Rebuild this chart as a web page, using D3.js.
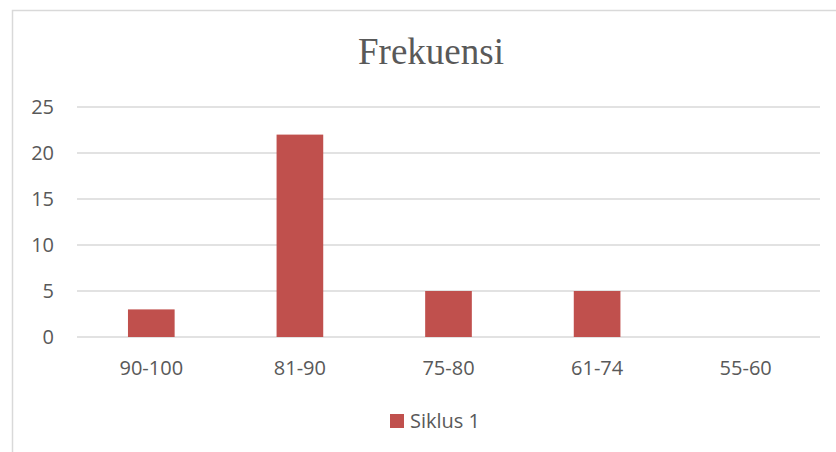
<!DOCTYPE html>
<html>
<head>
<meta charset="utf-8">
<script src="https://cdn.jsdelivr.net/npm/d3@7"></script>
<style>
  body { margin: 0; background: #fff; }
  svg { display: block; }
  .tick text { font-family: "Open Sans", sans-serif; fill: #595959; }
</style>
</head>
<body>
<svg id="chart" width="836" height="452"></svg>
<script>
const categories = ["90-100", "81-90", "75-80", "61-74", "55-60"];
const siklus1 = [3, 22, 5, 5, 0];
const yTicks = [0, 5, 10, 15, 20, 25];
const seriesName = "Siklus 1";
const title = "Frekuensi";

const svg = d3.select("#chart");

const barColor = "#c0504d";
const gridColor = "#d9d9d9";
const textColor = "#595959";

// outer chart frame
svg.append("rect")
    .attr("x", 12.5).attr("y", 10.5)
    .attr("width", 840).attr("height", 460)
    .attr("fill", "none")
    .attr("stroke", gridColor)
    .attr("stroke-width", 1.5);

const plot = { left: 77, right: 820, top: 107, bottom: 337 };

const x = d3.scaleBand()
    .domain(categories)
    .range([plot.left, plot.right])
    .paddingInner(0.686)
    .paddingOuter(0.343);

const y = d3.scaleLinear()
    .domain([0, 25])
    .range([plot.bottom, plot.top]);

// gridlines
svg.append("g")
    .selectAll("line")
    .data(yTicks)
    .join("line")
    .attr("x1", plot.left)
    .attr("x2", plot.right)
    .attr("y1", d => y(d))
    .attr("y2", d => y(d))
    .attr("stroke", gridColor)
    .attr("stroke-width", 1.3);

// y axis labels
const yAxis = svg.append("g")
    .attr("transform", `translate(${plot.left - 23},0)`)
    .call(d3.axisLeft(y).tickValues(yTicks).tickSize(0).tickPadding(0));
yAxis.select(".domain").remove();
yAxis.selectAll("text").style("font-size", "20px");

// bars
svg.append("g")
    .selectAll("rect")
    .data(categories.map((c, i) => ({ cat: c, value: siklus1[i] })))
    .join("rect")
    .attr("x", d => x(d.cat))
    .attr("y", d => y(d.value))
    .attr("width", x.bandwidth())
    .attr("height", d => y(0) - y(d.value))
    .attr("fill", barColor);

// x axis labels
const xAxis = svg.append("g")
    .attr("transform", `translate(0,${plot.bottom + 31})`)
    .call(d3.axisBottom(x).tickSize(0).tickPadding(0));
xAxis.select(".domain").remove();
xAxis.selectAll("text").style("font-size", "20px").attr("dy", "0.35em");

// title
svg.append("text")
    .attr("x", 431)
    .attr("y", 64)
    .attr("text-anchor", "middle")
    .style("font-family", "'Liberation Serif', 'Times New Roman', serif")
    .style("font-size", "37px")
    .style("fill", textColor)
    .text(title);

// legend
const legend = svg.append("g").attr("transform", "translate(390,414)");
legend.append("rect")
    .attr("width", 14).attr("height", 14)
    .attr("fill", barColor);
legend.append("text")
    .attr("x", 20)
    .attr("y", 7)
    .attr("dy", "0.35em")
    .style("font-family", "'Open Sans', sans-serif")
    .style("font-size", "20px")
    .style("fill", textColor)
    .text(seriesName);
</script>
</body>
</html>
